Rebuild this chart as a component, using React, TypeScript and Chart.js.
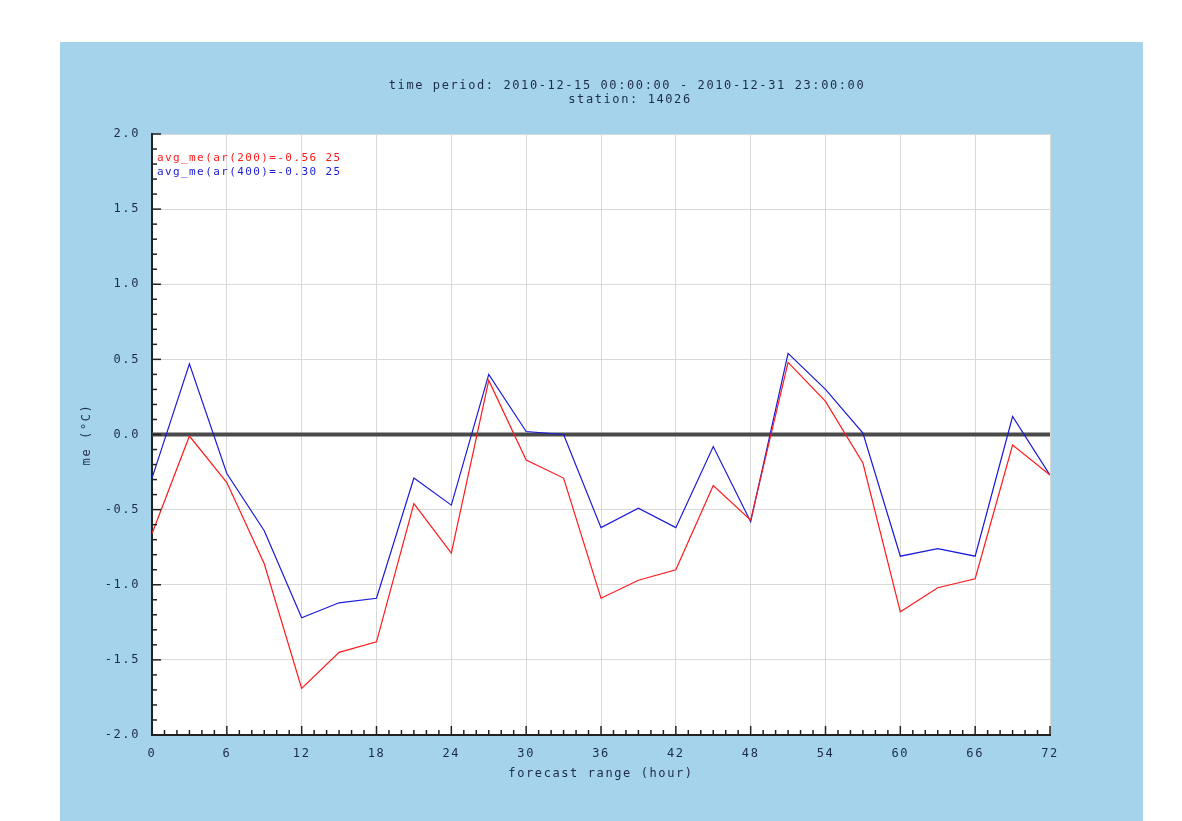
import React, { useEffect, useRef } from "react";
import { Chart, registerables } from "chart.js";

Chart.register(...registerables);

const hours = [0, 3, 6, 9, 12, 15, 18, 21, 24, 27, 30, 33, 36, 39, 42, 45, 48, 51, 54, 57, 60, 63, 66, 69, 72];
const ar200 = [-0.66, -0.01, -0.32, -0.86, -1.69, -1.45, -1.38, -0.46, -0.79, 0.36, -0.17, -0.29, -1.09, -0.97, -0.90, -0.34, -0.57, 0.48, 0.22, -0.19, -1.18, -1.02, -0.96, -0.07, -0.27];
const ar400 = [-0.29, 0.47, -0.26, -0.64, -1.22, -1.12, -1.09, -0.29, -0.47, 0.40, 0.02, 0.00, -0.62, -0.49, -0.62, -0.08, -0.58, 0.54, 0.30, 0.01, -0.81, -0.76, -0.81, 0.12, -0.27];
const seriesLabels = ["avg_me(ar(200)=-0.56 25", "avg_me(ar(400)=-0.30 25"];
const titleLines = ["time period: 2010-12-15 00:00:00 - 2010-12-31 23:00:00", "station: 14026"];
const yTickValues = [-2.0, -1.5, -1.0, -0.5, 0.0, 0.5, 1.0, 1.5, 2.0];
const xTickValues = [0, 6, 12, 18, 24, 30, 36, 42, 48, 54, 60, 66, 72];

const FONT = "'DejaVu Sans Mono', monospace";
const TEXT = "#1c2b4a";
const SPACING = "1.6px";

const framePlugin = {
  id: "frame",
  beforeDraw(chart: any) {
    const { ctx, chartArea: a } = chart;
    ctx.save();
    ctx.fillStyle = "#ffffff";
    ctx.fillRect(0, 0, chart.width, chart.height);
    ctx.fillStyle = "#a5d3eb";
    ctx.fillRect(60, 42, 1083, chart.height - 42);
    ctx.fillStyle = "#ffffff";
    ctx.fillRect(a.left, a.top, a.right - a.left, a.bottom - a.top);
    ctx.restore();
    (ctx as any).letterSpacing = SPACING;
  },
  beforeDatasetsDraw(chart: any) {
    const { ctx, chartArea: a, scales } = chart;
    const y0 = scales.y.getPixelForValue(0);
    ctx.save();
    ctx.strokeStyle = "#4a4a4a";
    ctx.lineWidth = 4;
    ctx.beginPath();
    ctx.moveTo(a.left, y0);
    ctx.lineTo(a.right, y0);
    ctx.stroke();
    ctx.restore();
  },
  afterDraw(chart: any) {
    const { ctx, chartArea: a, scales } = chart;
    ctx.save();
    (ctx as any).letterSpacing = SPACING;
    // minor/major ticks inside plot
    ctx.strokeStyle = "#222";
    ctx.lineWidth = 1.5;
    for (let i = -20; i <= 20; i++) {
      const v = i / 10;
      const py = scales.y.getPixelForValue(v);
      const len = i % 5 === 0 ? 9 : 5;
      ctx.beginPath();
      ctx.moveTo(a.left, py);
      ctx.lineTo(a.left + len, py);
      ctx.stroke();
    }
    for (let h = 0; h <= 72; h++) {
      const px = scales.x.getPixelForValue(h);
      const len = h % 6 === 0 ? 9 : 5;
      ctx.beginPath();
      ctx.moveTo(px, a.bottom);
      ctx.lineTo(px, a.bottom - len);
      ctx.stroke();
    }
    // title
    ctx.fillStyle = TEXT;
    ctx.font = `12px ${FONT}`;
    ctx.textAlign = "center";
    ctx.textBaseline = "middle";
    ctx.fillText(titleLines[0], 627, 86);
    ctx.fillText(titleLines[1], 630, 100);
    // legend
    ctx.textAlign = "left";
    ctx.font = `11px ${FONT}`;
    (ctx as any).letterSpacing = "1.4px";
    chart.data.datasets.forEach((ds: any, i: number) => {
      ctx.fillStyle = ds.borderColor;
      ctx.fillText(ds.label, a.left + 5, 158 + i * 14);
    });
    ctx.restore();
  },
};

export default function App() {
  const ref = useRef<HTMLCanvasElement>(null);
  useEffect(() => {
    document.body.style.margin = "0";
    const chart = new Chart(ref.current as HTMLCanvasElement, {
      type: "line",
      data: {
        datasets: [
          {
            label: seriesLabels[0],
            data: hours.map((h, i) => ({ x: h, y: ar200[i] })),
            borderColor: "#ff1a1a",
            borderWidth: 1.2,
            pointRadius: 0,
            tension: 0,
          },
          {
            label: seriesLabels[1],
            data: hours.map((h, i) => ({ x: h, y: ar400[i] })),
            borderColor: "#1a1ad9",
            borderWidth: 1.2,
            pointRadius: 0,
            tension: 0,
          },
        ],
      },
      options: {
        animation: false,
        responsive: false,
        layout: { padding: { left: 60, top: 134, right: 132, bottom: 0 } },
        plugins: { legend: { display: false }, title: { display: false }, tooltip: { enabled: false } },
        scales: {
          x: {
            type: "linear",
            min: 0,
            max: 72,
            afterFit(s: any) { s.height = 86; },
            afterBuildTicks(s: any) { s.ticks = xTickValues.map((v) => ({ value: v })); },
            ticks: { color: TEXT, font: { family: FONT, size: 12 }, padding: 12, maxRotation: 0, autoSkip: false, callback: (v: any) => String(v) },
            grid: { color: "#d9d9d9", lineWidth: 1, drawTicks: false },
            border: { display: true, color: "#222", width: 2 },
            title: { display: true, text: "forecast range (hour)", color: TEXT, font: { family: FONT, size: 12 }, padding: { top: 0, bottom: 40 } },
          },
          y: {
            min: -2,
            max: 2,
            afterFit(s: any) { s.width = 92; },
            afterBuildTicks(s: any) { s.ticks = yTickValues.map((v) => ({ value: v })); },
            ticks: { color: TEXT, font: { family: FONT, size: 12 }, padding: 12, autoSkip: false, callback: (v: any) => Number(v).toFixed(1) },
            grid: { color: "#d9d9d9", lineWidth: 1, drawTicks: false },
            border: { display: true, color: "#222", width: 2 },
            title: { display: true, text: "me (°C)", color: TEXT, font: { family: FONT, size: 12 }, padding: { top: 20, bottom: 0 } },
          },
        },
      } as any,
      plugins: [framePlugin],
    });
    return () => chart.destroy();
  }, []);
  return (
    <div style={{ width: 1182, height: 821 }}>
      <canvas ref={ref} width={1182} height={821} style={{ display: "block" }} />
    </div>
  );
}
